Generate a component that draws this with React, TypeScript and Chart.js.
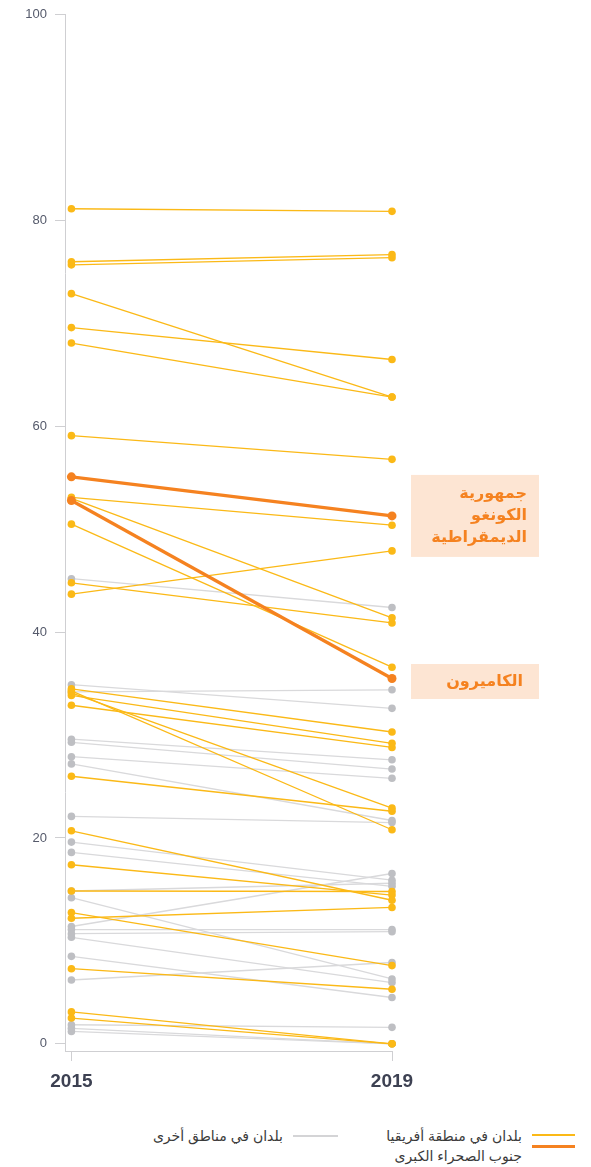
import React, { useEffect, useRef } from "react";
import { Chart, registerables } from "chart.js";

Chart.register(...registerables);

const years = [2015, 2019];
const yTickValues = [0, 20, 40, 60, 80, 100];

// Other regions (grey)
const otherStart = [45.2, 34.9, 34.2, 29.6, 29.3, 27.9, 27.2, 22.1, 19.6, 18.6, 14.85, 14.2, 11.4, 11.1, 10.7, 10.35, 8.5, 6.2, 1.85, 1.5, 1.2];
const otherEnd = [42.4, 32.6, 34.4, 27.6, 26.7, 25.8, 21.7, 21.5, 15.9, 15.3, 15.6, 6.3, 16.55, 11.1, 10.9, 5.95, 4.5, 7.9, 1.6, 0, 0];

// Sub-Saharan Africa (yellow)
const ssaStart = [81.15, 76.0, 75.7, 72.9, 69.6, 68.1, 59.1, 53.1, 53.0, 50.5, 44.8, 43.7, 34.5, 34.3, 34.1, 33.85, 32.9, 26.0, 20.7, 17.4, 14.85, 12.75, 12.2, 7.3, 3.1, 2.5];
const ssaEnd = [80.9, 76.7, 76.4, 62.85, 66.5, 62.85, 56.8, 50.4, 41.4, 36.6, 40.9, 47.9, 30.3, 20.8, 22.9, 29.2, 28.8, 22.6, 13.95, 14.45, 14.8, 7.6, 13.25, 5.3, 0, 0];

// Highlighted countries (orange)
const highlightNames = [["جمهورية", "الكونغو", "الديمقراطية"], ["الكاميرون"]];
const highlightStart = [55.1, 52.8];
const highlightEnd = [51.3, 35.5];

const GREY_LINE = "#D9D9DB";
const GREY_POINT = "#BEBFC3";
const YELLOW = "#FBB917";
const ORANGE = "#F58220";
const LABEL_BG = "#FDE5D3";
const FONT = "'Liberation Sans', 'DejaVu Sans', Arial, sans-serif";

function makeDataset(start: number, end: number, kind: "grey" | "yellow" | "orange") {
  const line = kind === "grey" ? GREY_LINE : kind === "yellow" ? YELLOW : ORANGE;
  const point = kind === "grey" ? GREY_POINT : kind === "yellow" ? YELLOW : ORANGE;
  return {
    data: [
      { x: years[0], y: start },
      { x: years[1], y: end },
    ],
    borderColor: line,
    backgroundColor: point,
    pointBackgroundColor: point,
    pointBorderWidth: 0,
    pointRadius: kind === "orange" ? 4.5 : 3.8,
    borderWidth: kind === "orange" ? 3.2 : 1.3,
    order: kind === "grey" ? 3 : kind === "yellow" ? 2 : 1,
    clip: false as any,
  };
}

const labelPlugin = {
  id: "highlightLabels",
  afterDraw(chart: any) {
    const { ctx, chartArea, scales } = chart;
    const y = scales.y;
    const boxX = chartArea.right + 19;
    const boxW = 128;
    const lineH = 22;
    highlightNames.forEach((lines, i) => {
      const cy = y.getPixelForValue(highlightEnd[i]) + (i === 1 ? 3 : 0);
      const h = lines.length === 1 ? 35 : lines.length * lineH + 16;
      ctx.save();
      ctx.fillStyle = LABEL_BG;
      ctx.fillRect(boxX, cy - h / 2, boxW, h);
      ctx.fillStyle = ORANGE;
      ctx.font = `bold 16px ${FONT}`;
      ctx.textAlign = "right";
      ctx.textBaseline = "middle";
      (ctx as any).direction = "rtl";
      const tx = lines.length === 1 ? boxX + 112 : boxX + 116;
      lines.forEach((t, j) => {
        const ly = cy - ((lines.length - 1) * lineH) / 2 + j * lineH;
        ctx.fillText(t, tx, ly);
      });
      ctx.restore();
    });
  },
};

function SlopeChart() {
  const ref = useRef<HTMLCanvasElement>(null);
  useEffect(() => {
    if (!ref.current) return;
    const datasets: any[] = [];
    otherStart.forEach((v, i) => datasets.push(makeDataset(v, otherEnd[i], "grey")));
    ssaStart.forEach((v, i) => datasets.push(makeDataset(v, ssaEnd[i], "yellow")));
    highlightStart.forEach((v, i) => datasets.push(makeDataset(v, highlightEnd[i], "orange")));

    const chart = new Chart(ref.current, {
      type: "line",
      data: { datasets },
      options: {
        animation: false,
        responsive: true,
        maintainAspectRatio: false,
        layout: { padding: { top: 5, right: 191, left: 0, bottom: 0 } },
        plugins: { legend: { display: false }, tooltip: { enabled: false } },
        scales: {
          x: {
            type: "linear",
            min: 2014.92,
            max: 2019,
            afterBuildTicks: (scale: any) => {
              scale.ticks = years.map((v) => ({ value: v }));
            },
            afterFit: (scale: any) => {
              scale.height = 47;
            },
            grid: {
              drawOnChartArea: false,
              drawTicks: true,
              tickLength: 10,
              color: "#CFCFD2",
            },
            border: { display: true, color: "#CFCFD2" },
            ticks: {
              padding: 9,
              color: "#3D4152",
              font: { family: FONT, size: 19, weight: "bold" },
              callback: (v: any) => String(v),
              maxRotation: 0,
            },
          },
          y: {
            type: "linear",
            min: -0.7,
            max: 100,
            afterBuildTicks: (scale: any) => {
              scale.ticks = yTickValues.map((v) => ({ value: v }));
            },
            afterFit: (scale: any) => {
              scale.width = 57;
            },
            grid: {
              drawOnChartArea: false,
              drawTicks: true,
              tickLength: 10,
              color: "#CFCFD2",
            },
            border: { display: true, color: "#CFCFD2" },
            ticks: {
              padding: 8,
              color: "#555A6B",
              font: { family: FONT, size: 13 },
              callback: (v: any) => String(v),
            },
          },
        },
      },
      plugins: [labelPlugin],
    } as any);
    return () => chart.destroy();
  }, []);
  return (
    <div style={{ position: "absolute", left: 0, top: -9, width: 575, height: 1099 }}>
      <canvas ref={ref} />
    </div>
  );
}

export default function App() {
  const legendText: React.CSSProperties = {
    position: "absolute",
    direction: "rtl",
    textAlign: "right",
    fontFamily: FONT,
    fontSize: 14,
    color: "#3A3A3A",
    lineHeight: "20px",
    whiteSpace: "nowrap",
  };
  return (
    <div style={{ position: "relative", width: 575, height: 1159 }}>
      <SlopeChart />
      <div style={{ position: "absolute", left: 524, top: 1126, width: 43, height: 2, background: YELLOW }} />
      <div style={{ position: "absolute", left: 524, top: 1137, width: 43, height: 3, background: ORANGE }} />
      <div style={{ ...legendText, right: 61, top: 1118 }}>
        بلدان في منطقة أفريقيا
        <br />
        جنوب الصحراء الكبرى
      </div>
      <div style={{ position: "absolute", left: 285, top: 1127, width: 45, height: 2, background: "#D4D4D6" }} />
      <div style={{ ...legendText, right: 300, top: 1118 }}>بلدان في مناطق أخرى</div>
    </div>
  );
}
